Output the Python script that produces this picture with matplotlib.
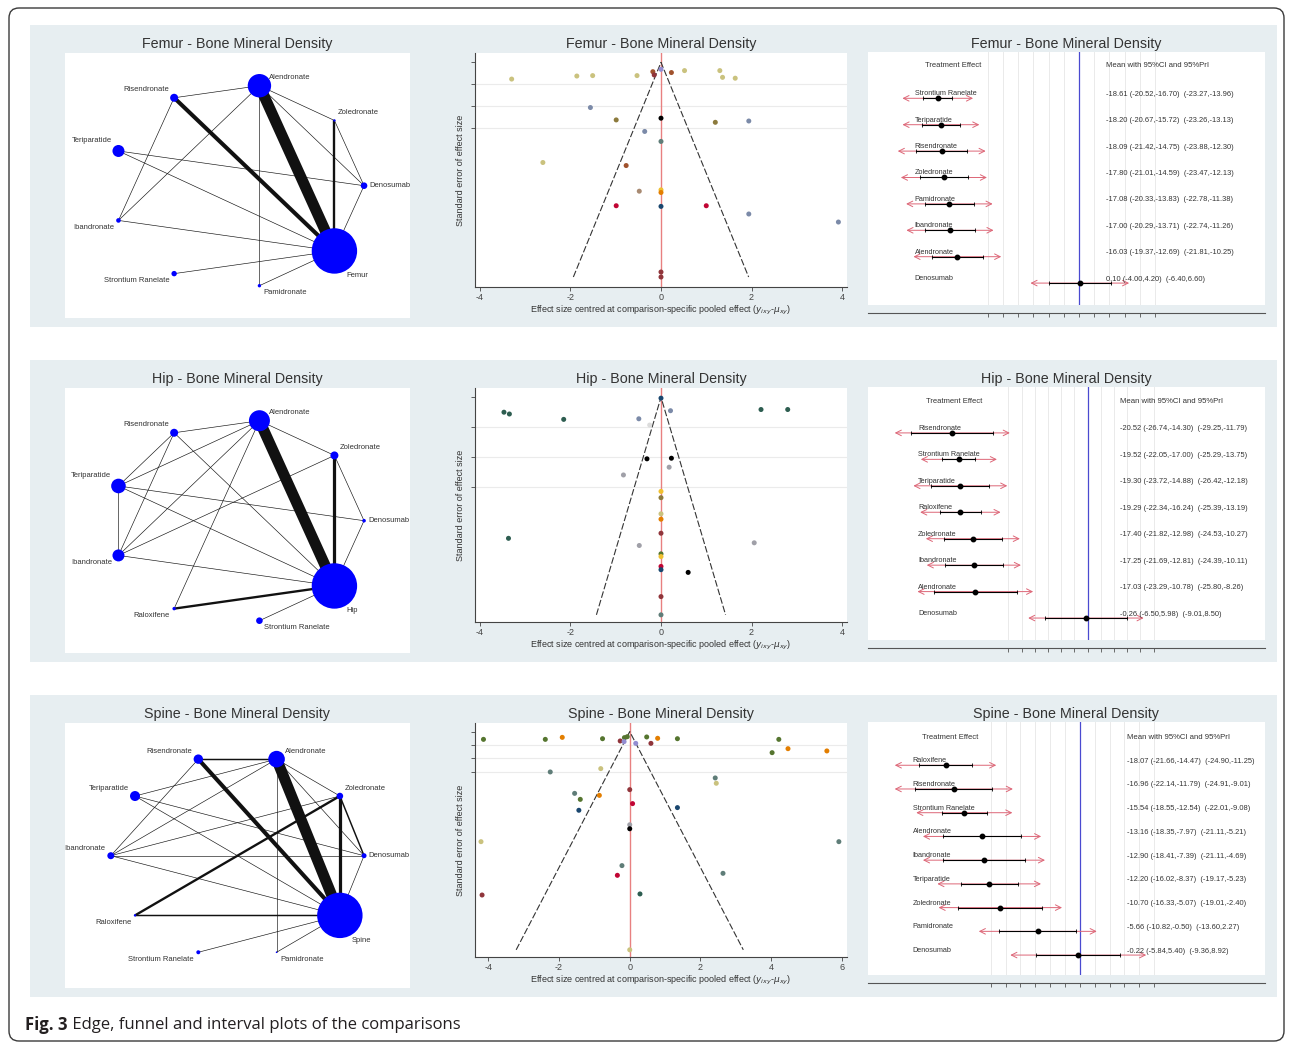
import numpy as np
import matplotlib.pyplot as plt
from matplotlib.patches import FancyBboxPatch, Rectangle

W, H = 1292, 1044
plt.rcParams['font.family'] = ['Liberation Sans', 'DejaVu Sans']
plt.rcParams['mathtext.fontset'] = 'dejavusans'
plt.rcParams['axes.unicode_minus'] = False

# ---------------- data ----------------
titles = ['Femur - Bone Mineral Density', 'Hip - Bone Mineral Density', 'Spine - Bone Mineral Density']

# network plots: nodes in circular order (counter-clockwise from 3 o'clock)
femur_nodes = ['Denosumab', 'Zoledronate', 'Alendronate', 'Risendronate', 'Teriparatide',
               'Ibandronate', 'Strontium Ranelate', 'Pamidronate', 'Femur']
femur_node_w = [3.3, 1.2, 11.7, 4, 6, 2.3, 2.7, 1.7, 22.7]
femur_edges = [('Alendronate', 'Femur', 13), ('Risendronate', 'Femur', 5), ('Zoledronate', 'Femur', 3),
               ('Risendronate', 'Alendronate', 1), ('Risendronate', 'Ibandronate', 1),
               ('Alendronate', 'Ibandronate', 1), ('Alendronate', 'Pamidronate', 1),
               ('Alendronate', 'Zoledronate', 1), ('Alendronate', 'Denosumab', 1),
               ('Zoledronate', 'Denosumab', 1), ('Teriparatide', 'Denosumab', 1),
               ('Teriparatide', 'Femur', 1), ('Ibandronate', 'Femur', 1),
               ('Strontium Ranelate', 'Femur', 1), ('Denosumab', 'Femur', 1), ('Pamidronate', 'Femur', 1)]

hip_nodes = ['Denosumab', 'Zoledronate', 'Alendronate', 'Risendronate', 'Teriparatide',
             'Ibandronate', 'Raloxifene', 'Strontium Ranelate', 'Hip']
hip_node_w = [1.8, 4, 10.5, 4, 7.3, 6, 1.7, 3.3, 22.7]
hip_edges = [('Alendronate', 'Hip', 13), ('Zoledronate', 'Hip', 4), ('Raloxifene', 'Hip', 3),
             ('Alendronate', 'Risendronate', 1), ('Alendronate', 'Zoledronate', 1),
             ('Alendronate', 'Teriparatide', 1), ('Alendronate', 'Ibandronate', 1),
             ('Alendronate', 'Raloxifene', 1), ('Risendronate', 'Teriparatide', 1),
             ('Risendronate', 'Ibandronate', 1), ('Risendronate', 'Hip', 1),
             ('Teriparatide', 'Ibandronate', 1), ('Teriparatide', 'Denosumab', 1),
             ('Teriparatide', 'Hip', 1), ('Ibandronate', 'Zoledronate', 1), ('Ibandronate', 'Hip', 1),
             ('Zoledronate', 'Denosumab', 1), ('Denosumab', 'Hip', 1), ('Strontium Ranelate', 'Hip', 1)]

spine_nodes = ['Denosumab', 'Zoledronate', 'Alendronate', 'Risendronate', 'Teriparatide',
               'Ibandronate', 'Raloxifene', 'Strontium Ranelate', 'Pamidronate', 'Spine']
spine_node_w = [2.5, 3.3, 8.3, 4.7, 5, 3.5, 1.2, 2, 0.8, 22.7]
spine_edges = [('Alendronate', 'Spine', 13), ('Risendronate', 'Spine', 5), ('Zoledronate', 'Spine', 4),
               ('Risendronate', 'Alendronate', 2), ('Raloxifene', 'Zoledronate', 3),
               ('Raloxifene', 'Spine', 2), ('Zoledronate', 'Denosumab', 2),
               ('Teriparatide', 'Alendronate', 1), ('Teriparatide', 'Denosumab', 1),
               ('Teriparatide', 'Spine', 1), ('Ibandronate', 'Risendronate', 1),
               ('Ibandronate', 'Alendronate', 1), ('Ibandronate', 'Zoledronate', 1),
               ('Ibandronate', 'Denosumab', 1), ('Ibandronate', 'Spine', 1),
               ('Alendronate', 'Zoledronate', 1), ('Alendronate', 'Denosumab', 1),
               ('Alendronate', 'Pamidronate', 1), ('Denosumab', 'Spine', 1),
               ('Strontium Ranelate', 'Spine', 1), ('Pamidronate', 'Spine', 1)]

# funnel plots
femur_fx = [-3.30, -1.86, -1.51, -0.53, -0.18, -0.15, 0.0, 0.23, 0.52, 1.30, 1.36, 1.64,
            -1.56, -0.99, 0.0, 1.20, 1.94, -0.36, 0.0, -2.61, -0.77, -0.48, 0.0, 0.0,
            -0.99, 0.0, 1.00, 1.94, 3.92, 0.0, 0.0]
femur_fse = [0.077, 0.063, 0.061, 0.061, 0.043, 0.058, 0.032, 0.047, 0.038, 0.038, 0.069, 0.073,
             0.208, 0.265, 0.257, 0.276, 0.270, 0.318, 0.364, 0.461, 0.475, 0.593, 0.587, 0.599,
             0.660, 0.663, 0.660, 0.698, 0.735, 0.965, 0.988]
femur_fc = ['khaki', 'khaki', 'khaki', 'khaki', 'sienna', 'maroon', 'lavender', 'sienna',
            'khaki', 'khaki', 'khaki', 'khaki', 'emidblue', 'brown', 'black', 'brown',
            'emidblue', 'emidblue', 'teal', 'khaki', 'sienna', 'erose', 'gold', 'dkorange',
            'cranberry', 'navy', 'cranberry', 'emidblue', 'emidblue', 'maroon', 'maroon']

hip_fx = [-3.47, -3.35, -2.15, -0.49, -0.25, 0.21, 0.0, 2.21, 2.80, -0.31, 0.23, 0.18, -0.83,
          0.0, 0.0, 0.0, 0.0, 0.0, -3.37, -0.48, 2.06, 0.0, 0.0, 0.0, 0.0, 0.60, 0.0, 0.0]
hip_fse = [0.050, 0.056, 0.074, 0.072, 0.093, 0.045, 0.003, 0.041, 0.041, 0.206, 0.204, 0.234,
           0.260, 0.315, 0.336, 0.390, 0.408, 0.455, 0.472, 0.496, 0.487, 0.524, 0.533, 0.566,
           0.577, 0.586, 0.667, 0.728]
hip_fc = ['emerald', 'emerald', 'emerald', 'emidblue', 'ltgray', 'emidblue', 'navy', 'emerald',
          'emerald', 'black', 'black', 'gray', 'gray', 'gold', 'brown', 'khaki', 'dkorange',
          'maroon', 'emerald', 'gray', 'gray', 'forest', 'gold', 'cranberry', 'navy', 'black',
          'maroon', 'teal']

spine_fx = [-4.14, -2.39, -1.91, -0.77, -0.27, -0.15, -0.07, -0.16, 0.17, 0.48, 0.60, 0.79, 1.35,
            4.22, 4.48, 4.03, 5.58, -2.25, -0.82, 2.42, 2.45, -1.56, -1.40, -0.86, 0.0, 0.08,
            -1.44, 1.35, 0.0, 0.0, -4.21, 5.92, -0.22, -0.35, 2.64, -4.18, 0.29, 0.0]
spine_fse = [0.058, 0.058, 0.043, 0.053, 0.070, 0.045, 0.038, 0.075, 0.088, 0.040, 0.088, 0.050,
             0.053, 0.058, 0.128, 0.158, 0.145, 0.303, 0.278, 0.348, 0.388, 0.464, 0.509, 0.479,
             0.436, 0.541, 0.591, 0.571, 0.700, 0.730, 0.827, 0.827, 1.007, 1.080, 1.065, 1.228,
             1.220, 1.640]
spine_fc = ['forest', 'forest', 'dkorange', 'forest', 'maroon', 'forest', 'forest', 'lavender',
            'lavender', 'forest', 'maroon', 'dkorange', 'forest', 'forest', 'dkorange', 'forest',
            'dkorange', 'teal', 'khaki', 'teal', 'khaki', 'teal', 'forest', 'dkorange', 'maroon',
            'cranberry', 'navy', 'navy', 'gray', 'black', 'khaki', 'teal', 'teal', 'cranberry',
            'teal', 'maroon', 'emerald', 'khaki']

# interval plots
femur_trt = ['Strontium Ranelate', 'Teriparatide', 'Risendronate', 'Zoledronate', 'Pamidronate',
             'Ibandronate', 'Alendronate', 'Denosumab']
femur_mean = [-18.61, -18.20, -18.09, -17.80, -17.08, -17.00, -16.03, 0.10]
femur_ci_lo = [-20.52, -20.67, -21.42, -21.01, -20.33, -20.29, -19.37, -4.00]
femur_ci_hi = [-16.70, -15.72, -14.75, -14.59, -13.83, -13.71, -12.69, 4.20]
femur_pi_lo = [-23.27, -23.26, -23.88, -23.47, -22.78, -22.74, -21.81, -6.40]
femur_pi_hi = [-13.96, -13.13, -12.30, -12.13, -11.38, -11.26, -10.25, 6.60]

hip_trt = ['Risendronate', 'Strontium Ranelate', 'Teriparatide', 'Raloxifene', 'Zoledronate',
           'Ibandronate', 'Alendronate', 'Denosumab']
hip_mean = [-20.52, -19.52, -19.30, -19.29, -17.40, -17.25, -17.03, -0.26]
hip_ci_lo = [-26.74, -22.05, -23.72, -22.34, -21.82, -21.69, -23.29, -6.50]
hip_ci_hi = [-14.30, -17.00, -14.88, -16.24, -12.98, -12.81, -10.78, 5.98]
hip_pi_lo = [-29.25, -25.29, -26.42, -25.39, -24.53, -24.39, -25.80, -9.01]
hip_pi_hi = [-11.79, -13.75, -12.18, -13.19, -10.27, -10.11, -8.26, 8.50]

spine_trt = ['Raloxifene', 'Risendronate', 'Strontium Ranelate', 'Alendronate', 'Ibandronate',
             'Teriparatide', 'Zoledronate', 'Pamidronate', 'Denosumab']
spine_mean = [-18.07, -16.96, -15.54, -13.16, -12.90, -12.20, -10.70, -5.66, -0.22]
spine_ci_lo = [-21.66, -22.14, -18.55, -18.35, -18.41, -16.02, -16.33, -10.82, -5.84]
spine_ci_hi = [-14.47, -11.79, -12.54, -7.97, -7.39, -8.37, -5.07, -0.50, 5.40]
spine_pi_lo = [-24.90, -24.91, -22.01, -21.11, -21.11, -19.17, -19.01, -13.60, -9.36]
spine_pi_hi = [-11.25, -9.01, -9.08, -5.21, -4.69, -5.23, -2.40, 2.27, 8.92]

# ---------------- style ----------------
PAL = {'navy': '#1a476f', 'maroon': '#90353b', 'forest': '#55752f', 'dkorange': '#e37e00',
       'teal': '#5f7d78', 'cranberry': '#c10534', 'lavender': '#938dd2', 'khaki': '#cac27e',
       'sienna': '#a0522d', 'emidblue': '#7b8aa8', 'emerald': '#2d5d50', 'brown': '#8c7a3c',
       'erose': '#a88a72', 'gold': '#f0c030', 'black': '#000000', 'gray': '#a0a0a8',
       'ltgray': '#dcdcdc'}
BAND = '#e7eef1'
TXT = '#333333'
PI_RED = '#dd6677'

fig = plt.figure(figsize=(W / 100, H / 100), dpi=100)


def px_axes(x0, y0, x1, y1):
    return fig.add_axes([x0 / W, 1 - y1 / H, (x1 - x0) / W, (y1 - y0) / H])


bg = px_axes(0, 0, W, H)
bg.set_xlim(0, W)
bg.set_ylim(H, 0)
bg.axis('off')
bg.set_zorder(-5)

row_off = [0, 335, 670]
for off in row_off:
    bg.add_patch(Rectangle((30, 25 + off), 1247, 302, color=BAND, lw=0))
bg.add_patch(FancyBboxPatch((9, 8), 1275, 1033, boxstyle='round,pad=0,rounding_size=10',
                            fill=False, ec='#3a3a3a', lw=1))
cap = bg.text(25, 1025, 'Fig. 3', fontfamily='Open Sans', fontweight='bold', fontsize=12,
              va='center', color='#231f20')
bg.annotate(' Edge, funnel and interval plots of the comparisons', xy=(1, 0.5), xycoords=cap,
            va='center', ha='left', fontfamily='Open Sans', fontsize=12, color='#231f20')


def network(ax, names, node_w, edges):
    n = len(names)
    ang = np.deg2rad(np.arange(n) * 360.0 / n)
    pos = {nm: (np.cos(a), np.sin(a)) for nm, a in zip(names, ang)}
    for a, b, k in edges:
        (x0, y0), (x1, y1) = pos[a], pos[b]
        ax.plot([x0, x1], [y0, y1], color='#111111', lw=0.45 + 0.62 * (k - 1),
                solid_capstyle='butt', zorder=1)
    r = np.array(node_w)
    ax.scatter(np.cos(ang), np.sin(ang), s=(2 * r * 0.72) ** 2, color='#0000ff', lw=0, zorder=2)
    for i, (nm, a) in enumerate(zip(names, ang)):
        c, s = np.cos(a), np.sin(a)
        if i == n - 1:
            dx, dy, ha = 12, -25, 'left'
        else:
            sign = 1 if c > 1e-6 else -1
            ha = 'left' if sign > 0 else 'right'
            dx = sign * (3 + 0.6 * r[i])
            if s > 0.1:
                dy = 8 + (2 if r[i] > 5 and c < 0 else 0)
            elif s < -0.1:
                dy = -7
            else:
                dy = 0 if c > 0 else 7
        ax.annotate(nm, xy=(c, s), xytext=(dx, dy), textcoords='offset pixels', ha=ha,
                    va='center', fontsize=5.5, color=TXT)
    ax.set_xlim(-1.362, 1.363)
    ax.set_ylim(-1.303, 1.307)
    ax.set_xticks([])
    ax.set_yticks([])
    for sp in ax.spines.values():
        sp.set_visible(False)
    ax.set_facecolor('white')


def funnel(ax, x, se, cols, xlim, ylim, xticks):
    ax.set_facecolor('white')
    ax.set_xlim(xlim)
    ax.set_ylim(ylim)
    for sp in ['top', 'right']:
        ax.spines[sp].set_visible(False)
    for sp in ['left', 'bottom']:
        ax.spines[sp].set_color('#444444')
        ax.spines[sp].set_linewidth(0.8)
    yt = [0, 0.1, 0.2, 0.3]
    ax.set_xticks(xticks)
    ax.set_yticks(yt)
    ax.set_yticklabels([])
    ax.tick_params(length=3, width=0.6, labelsize=6.5, pad=1.5, colors='#444444')
    for t in yt[1:]:
        ax.axhline(t, color='#ebebeb', lw=0.8, zorder=0)
    ax.axvline(0, color='#e88080', lw=1, zorder=1)
    smax = max(se)
    ax.plot([-1.96 * smax, 0, 1.96 * smax], [smax, 0, smax], color='#333333', lw=0.8,
            ls=(0, (6, 2)), zorder=2)
    ax.scatter(x, se, s=13, c=[PAL[c] for c in cols], lw=0, zorder=3, clip_on=False)
    ax.set_xlabel(r'Effect size centred at comparison-specific pooled effect ($y_{ixy}$-$\mu_{xy}$)',
                  fontsize=6.5, labelpad=1, color=TXT)
    ax.set_ylabel('Standard error of effect size', fontsize=6.5, labelpad=3, color=TXT)


def interval(ax, names, m, lo, hi, plo, phi, xlim, ylim, hdr_y, lab_fx, val_fx, hdr_fx):
    ax.set_facecolor('white')
    ax.set_xlim(xlim)
    ax.set_ylim(ylim)
    for sp in ['top', 'left', 'right']:
        ax.spines[sp].set_visible(False)
    ax.spines['bottom'].set_position(('outward', 6))
    ax.spines['bottom'].set_color('#555555')
    ax.spines['bottom'].set_linewidth(0.8)
    ticks = np.arange(-12, 11, 2)
    ax.set_xticks(ticks)
    ax.set_xticklabels([])
    ax.set_yticks([])
    ax.tick_params(axis='x', length=3, width=0.6, color='#555555', direction='out')
    for t in ticks:
        ax.axvline(t, color='#e6e6e6', lw=0.6, zorder=0)
    ax.axvline(0, color='#4a4ad0', lw=0.9, zorder=1)
    tr = ax.get_yaxis_transform()
    ax.text(hdr_fx, hdr_y, 'Treatment Effect', transform=tr, ha='center', va='center',
            fontsize=5.5, color=TXT)
    ax.text(val_fx, hdr_y, 'Mean with 95%CI and 95%PrI', transform=tr, ha='left', va='center',
            fontsize=5.6, color=TXT)
    for i, nm in enumerate(names):
        y = i + 1
        ax.annotate('', xy=(phi[i], y), xytext=(plo[i], y),
                    arrowprops=dict(arrowstyle='<->,head_length=0.4,head_width=0.2', color=PI_RED,
                                    lw=0.7, shrinkA=0, shrinkB=0, mutation_scale=10), zorder=2)
        ax.plot([lo[i], hi[i]], [y, y], color='black', lw=0.8, zorder=3)
        ax.plot([lo[i], hi[i]], [y, y], ls='none', marker='|', ms=3, mew=0.6, color='black', zorder=3)
        ax.plot(m[i], y, 'o', ms=3.2, color='black', zorder=4)
        ax.annotate(nm, xy=(lab_fx, y), xycoords=tr, xytext=(0, 1), textcoords='offset pixels',
                    ha='left', va='bottom', fontsize=5.2, color=TXT)
        val = f'{m[i]:.2f} ({lo[i]:.2f},{hi[i]:.2f})  ({plo[i]:.2f},{phi[i]:.2f})'
        ax.annotate(val, xy=(val_fx, y), xycoords=tr, xytext=(0, 4), textcoords='offset pixels',
                    ha='left', va='center', fontsize=5.4, color=TXT)


nets = [(femur_nodes, femur_node_w, femur_edges), (hip_nodes, hip_node_w, hip_edges),
        (spine_nodes, spine_node_w, spine_edges)]
funs = [(femur_fx, femur_fse, femur_fc, (-4.11, 4.11), (1.034, -0.043), [-4, -2, 0, 2, 4]),
        (hip_fx, hip_fse, hip_fc, (-4.11, 4.11), (0.752, -0.031), [-4, -2, 0, 2, 4]),
        (spine_fx, spine_fse, spine_fc, (-4.38, 6.15), (1.694, -0.065), [-4, -2, 0, 2, 4, 6])]
ints = [(femur_trt, femur_mean, femur_ci_lo, femur_ci_hi, femur_pi_lo, femur_pi_hi,
         (-27.8, 24.5), (8.83, -0.754), -0.235, 0.118, 0.600, 0.214),
        (hip_trt, hip_mean, hip_ci_lo, hip_ci_hi, hip_pi_lo, hip_pi_hi,
         (-33.3, 26.9), (8.83, -0.736), -0.17, 0.126, 0.635, 0.217),
        (spine_trt, spine_mean, spine_ci_lo, spine_ci_hi, spine_pi_lo, spine_pi_hi,
         (-28.5, 24.9), (9.84, -0.823), -0.19, 0.113, 0.652, 0.207)]

for k, off in enumerate(row_off):
    for cx in [237, 661, 1066]:
        bg.text(cx, 44 + off, titles[k], ha='center', va='center', fontsize=10.3, color=TXT)
    network(px_axes(65, 53 + off, 410, 318 + off), *nets[k])
    funnel(px_axes(475, 53 + off, 847, 287 + off), *funs[k])
    interval(px_axes(868, 52 + off, 1265, 305 + off), *ints[k])

fig.savefig('out.png', dpi=100, facecolor='white')
